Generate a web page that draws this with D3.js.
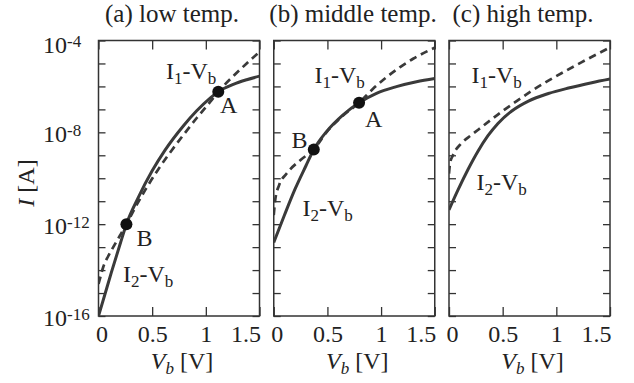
<!DOCTYPE html>
<html>
<head>
<meta charset="utf-8">
<script src="https://cdn.jsdelivr.net/npm/d3@7"></script>
<style>
  body { margin: 0; background: #fff; }
  svg text { font-family: "Liberation Serif", "Times New Roman", Times, serif; fill: #222; }
</style>
</head>
<body>
<svg id="chart" width="634" height="383"></svg>
<script>
// Panel titles and axis ticks
const panelTitles = ["(a) low temp.", "(b) middle temp.", "(c) high temp."];
const xTicks = [0, 0.5, 1, 1.5];
const yTicks = [1e-16, 1e-15, 1e-14, 1e-13, 1e-12, 1e-11, 1e-10, 1e-9, 1e-8, 1e-7, 1e-6, 1e-5, 1e-4];
const yLabelTicks = [1e-4, 1e-8, 1e-12, 1e-16];

// (a) low temperature: I1-Vb (dashed) and I2-Vb (solid), current in A
const lowV1 = [0, 0.015, 0.045, 0.09, 0.14, 0.2, 0.26, 0.35, 0.433, 0.55, 0.65, 0.79, 0.915, 1.04, 1.116, 1.256, 1.38, 1.5];
const lowI1 = [2.5e-15, 4.5e-15, 1.4e-14, 4.0e-14, 1.05e-13, 3.2e-13, 1.0e-12, 6.2e-12, 2.95e-11, 2.2e-10, 1.02e-9, 7.6e-9, 4.2e-8, 2.1e-7, 5.9e-7, 2.8e-6, 1.0e-5, 3.2e-5];
const lowV2 = [0, 0.06, 0.12, 0.2, 0.26, 0.37, 0.5, 0.62, 0.79, 0.915, 1.04, 1.116, 1.256, 1.38, 1.5];
const lowI2 = [1e-16, 8.9e-16, 7.9e-15, 1.3e-13, 1.0e-12, 1.43e-11, 2.1e-10, 1.68e-9, 1.9e-8, 8.7e-8, 3.1e-7, 5.9e-7, 1.23e-6, 1.95e-6, 2.8e-6];

// (b) middle temperature
const midV1 = [0, 0.015, 0.05, 0.12, 0.25, 0.373, 0.491, 0.646, 0.795, 0.925, 1.05, 1.174, 1.298, 1.44, 1.5];
const midI1 = [2.5e-12, 1.26e-11, 5.0e-11, 1.6e-10, 6.3e-10, 1.8e-9, 1.0e-8, 5.4e-8, 1.95e-7, 7.9e-7, 2.5e-6, 6.8e-6, 1.6e-5, 3.6e-5, 4.9e-5];
const midV2 = [0, 0.1, 0.2, 0.3, 0.373, 0.491, 0.646, 0.795, 0.957, 1.143, 1.33, 1.5];
const midI2 = [1.6e-13, 2.5e-12, 3.5e-11, 3.5e-10, 1.8e-9, 1.07e-8, 5.8e-8, 1.95e-7, 5.0e-7, 9.8e-7, 1.6e-6, 2.2e-6];

// (c) high temperature
const highV1 = [0, 0.01, 0.037, 0.115, 0.208, 0.301, 0.394, 0.487, 0.612, 0.766, 0.922, 1.078, 1.233, 1.389, 1.5];
const highI1 = [1.6e-10, 4.5e-10, 1.0e-9, 3.3e-9, 7.6e-9, 1.66e-8, 3.6e-8, 7.7e-8, 2.0e-7, 6.2e-7, 1.74e-6, 4.5e-6, 1.12e-5, 2.7e-5, 5.0e-5];
const highV2 = [0, 0.084, 0.177, 0.27, 0.363, 0.456, 0.585, 0.74, 0.926, 1.113, 1.33, 1.5];
const highI2 = [4.2e-12, 3.1e-11, 2.4e-10, 1.5e-9, 7.1e-9, 2.45e-8, 8.5e-8, 2.3e-7, 4.9e-7, 8.5e-7, 1.45e-6, 2.1e-6];

// Operating points where the two curves meet
const lowPointNames = ["A", "B"];
const lowPointV = [1.116, 0.26];
const lowPointI = [5.9e-7, 1.0e-12];
const midPointNames = ["A", "B"];
const midPointV = [0.795, 0.373];
const midPointI = [1.95e-7, 1.8e-9];

const panels = [
  { title: panelTitles[0], titleX: 172, v1: lowV1, i1: lowI1, v2: lowV2, i2: lowI2,
    pts: lowPointNames.map((n, j) => ({ n, v: lowPointV[j], i: lowPointI[j] })),
    ptLab: { A: [220, 113], B: [136.5, 246] }, lab1: [166, 79], lab2: [123, 282] },
  { title: panelTitles[1], titleX: 353, v1: midV1, i1: midI1, v2: midV2, i2: midI2,
    pts: midPointNames.map((n, j) => ({ n, v: midPointV[j], i: midPointI[j] })),
    ptLab: { A: [365, 127], B: [291.5, 148] }, lab1: [314.5, 83], lab2: [302.5, 216] },
  { title: panelTitles[2], titleX: 523, v1: highV1, i1: highI1, v2: highV2, i2: highI2,
    pts: [], ptLab: {}, lab1: [471.5, 83], lab2: [476.5, 190] }
];

const svg = d3.select("#chart");
const plotTop = 40.5, plotBottom = 316, pw = 161;
const ink = "#333";
const lineInk = "#3a3a3a";

// label with subscripts: parts = [[text, isSub], ...]
function subLabel(g, x, y, parts, size) {
  const t = g.append("text").attr("x", x).attr("y", y).style("font-size", size + "px");
  let shift = 0;
  parts.forEach(([s, sub]) => {
    const target = sub ? 4.5 : 0;
    t.append("tspan").attr("dy", target - shift)
      .style("font-size", sub ? "17px" : size + "px").text(s);
    shift = target;
  });
  return t;
}

panels.forEach((p, k) => {
  const left = 98.5 + k * 175.25;
  const x = d3.scaleLinear().domain([0, 1.5]).range([left, left + pw]);
  const y = d3.scaleLog().domain([1e-16, 1e-4]).range([plotBottom, plotTop]);
  const g = svg.append("g");

  // inward ticks on all four sides
  const bx = g.append("g").attr("transform", `translate(0,${plotBottom})`)
    .call(d3.axisBottom(x).tickValues(xTicks).tickSizeInner(-9).tickSizeOuter(0)
      .tickPadding(8.5).tickFormat(d3.format("")));
  const tx = g.append("g").attr("transform", `translate(0,${plotTop})`)
    .call(d3.axisTop(x).tickValues(xTicks).tickSizeInner(-9).tickSizeOuter(0).tickFormat(""));
  const ly = g.append("g").attr("transform", `translate(${left},0)`)
    .call(d3.axisLeft(y).tickValues(yTicks).tickSizeInner(-7).tickSizeOuter(0).tickFormat(""));
  const ry = g.append("g").attr("transform", `translate(${left + pw},0)`)
    .call(d3.axisRight(y).tickValues(yTicks).tickSizeInner(-7).tickSizeOuter(0).tickFormat(""));
  [bx, tx, ly, ry].forEach(a => {
    a.select(".domain").remove();
    a.selectAll(".tick line").attr("stroke", ink).attr("stroke-width", 1.3);
  });
  bx.selectAll(".tick text")
    .attr("fill", "#222").attr("font-family", null).attr("font-size", null)
    .style("font-size", "24px")
    .attr("text-anchor", d => d === 1.5 ? "end" : "middle")
    .attr("dx", d => d === 0 ? 3 : (d === 1.5 ? 1 : 0));

  // frame
  g.append("rect").attr("x", left).attr("y", plotTop).attr("width", pw).attr("height", plotBottom - plotTop)
    .attr("fill", "none").attr("stroke", ink).attr("stroke-width", 1.5);

  // curves
  const line = d3.line().x(d => x(d[0])).y(d => y(d[1])).curve(d3.curveMonotoneX);
  const clip = "clip" + k;
  svg.append("clipPath").attr("id", clip).append("rect")
    .attr("x", left).attr("y", plotTop).attr("width", pw).attr("height", plotBottom - plotTop);
  const cg = g.append("g").attr("clip-path", `url(#${clip})`);
  cg.append("path").datum(p.v2.map((v, j) => [v, p.i2[j]]))
    .attr("d", line).attr("fill", "none").attr("stroke", lineInk).attr("stroke-width", 3)
    .attr("stroke-linejoin", "round");
  cg.append("path").datum(p.v1.map((v, j) => [v, p.i1[j]]))
    .attr("d", line).attr("fill", "none").attr("stroke", lineInk).attr("stroke-width", 2.7)
    .attr("stroke-dasharray", "7.5,5");

  // operating points
  p.pts.forEach(pt => {
    g.append("circle").attr("cx", x(pt.v)).attr("cy", y(pt.i)).attr("r", 6).attr("fill", "#111");
    const [lx, lyy] = p.ptLab[pt.n];
    g.append("text").attr("x", lx).attr("y", lyy).style("font-size", "24px").text(pt.n);
  });

  // curve labels
  subLabel(g, p.lab1[0], p.lab1[1], [["I", false], ["1", true], ["-V", false], ["b", true]], 24);
  subLabel(g, p.lab2[0], p.lab2[1], [["I", false], ["2", true], ["-V", false], ["b", true]], 24);

  // title
  g.append("text").attr("x", p.titleX).attr("y", 22).attr("text-anchor", "middle")
    .style("font-size", "25px").text(p.title);

  // x axis label
  const xl = g.append("text").attr("x", left + pw / 2 + 3).attr("y", 369)
    .attr("text-anchor", "middle").style("font-size", "24px");
  xl.append("tspan").style("font-style", "italic").text("V");
  xl.append("tspan").style("font-style", "italic").style("font-size", "17px").attr("dy", 5).text("b");
  xl.append("tspan").attr("dy", -5).text(" [V]");

  // y tick labels on the first panel only
  if (k === 0) {
    yLabelTicks.forEach(t => {
      const e = Math.round(Math.log10(t));
      const ty = g.append("text").attr("x", 43).attr("y", y(t) + (e === -4 ? 12.5 : 9.5))
        .style("font-size", "24px");
      ty.append("tspan").text("10");
      ty.append("tspan").attr("dy", -6).style("font-size", "17px").text(String(e));
    });
  }
});

// y axis title
const yt = svg.append("text").attr("transform", "translate(34,183) rotate(-90)")
  .attr("text-anchor", "middle").style("font-size", "24px");
yt.append("tspan").style("font-style", "italic").text("I");
yt.append("tspan").text("  [A]");
</script>
</body>
</html>
